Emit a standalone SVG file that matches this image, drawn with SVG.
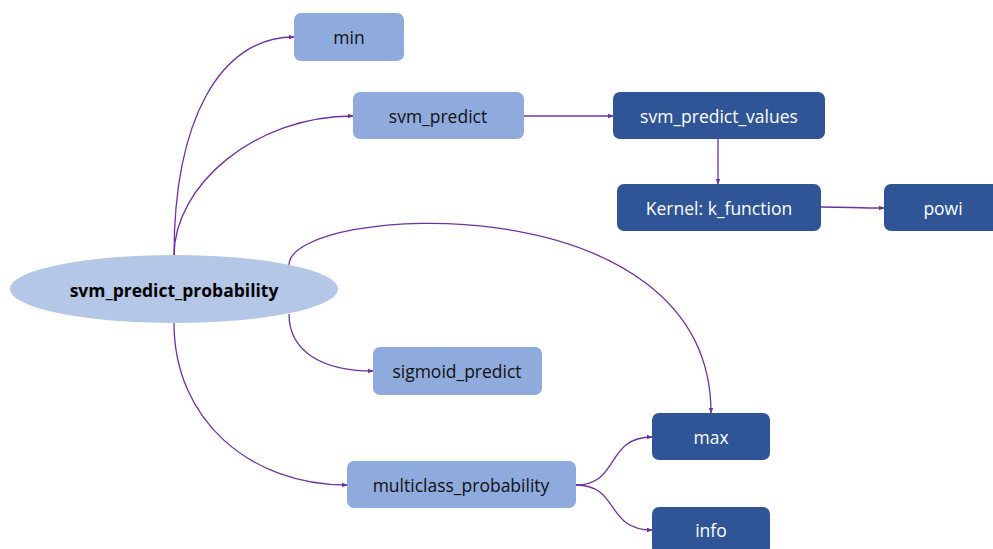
<svg xmlns="http://www.w3.org/2000/svg" width="993" height="549" viewBox="0 0 993 549">
  <defs>
    <marker id="arrow" viewBox="0 0 10 10" refX="9" refY="5" markerWidth="6" markerHeight="6" orient="auto" markerUnits="userSpaceOnUse">
      <path d="M0,1 L10,5 L0,9 z" fill="#7030A0"/>
    </marker>
    <style>
      .edge { fill: none; stroke: #7030A0; stroke-width: 1.3; marker-end: url(#arrow); }
      .light rect { fill: #8FAADC; }
      .dark rect { fill: #2F5597; }
      text { font-family: "Open Sans", "Liberation Sans", sans-serif; font-size: 17.5px; text-anchor: middle; dominant-baseline: central; }
      .light text { fill: #111111; }
      .dark text { fill: #FFFFFF; }
      .root ellipse { fill: #B4C7E7; }
      .root text { fill: #000000; font-weight: bold; }
    </style>
  </defs>
  <rect width="993" height="549" fill="#FFFFFF"/>

  <!-- connectors -->
  <g id="connectors">
    <path class="edge" d="M174,256 C174,120 220,37 294,37"/>
    <path class="edge" d="M174,256 C174,185 255,116 353,116"/>
    <path class="edge" d="M524,116 L613,116"/>
    <path class="edge" d="M718,139 L718,184"/>
    <path class="edge" d="M821,207 C850,207 855,208 884,208"/>
    <path class="edge" d="M289,265 C289,204 711,179 711,413"/>
    <path class="edge" d="M289,314 C289,350 320,371 373,371"/>
    <path class="edge" d="M174,323 C174,420 250,485 347,485"/>
    <path class="edge" d="M576,485 C620,485 605,437 652,437"/>
    <path class="edge" d="M576,485 C620,485 605,530 652,530"/>
  </g>

  <!-- nodes -->
  <g id="svm_predict_probability" class="root">
    <ellipse cx="174" cy="289" rx="164" ry="34"/>
    <text x="174" y="290">svm_predict_probability</text>
  </g>
  <g id="min" class="light">
    <rect x="294" y="13" width="110" height="48" rx="7"/>
    <text x="349" y="37">min</text>
  </g>
  <g id="svm_predict" class="light">
    <rect x="353" y="92" width="171" height="47" rx="7"/>
    <text x="438" y="116">svm_predict</text>
  </g>
  <g id="svm_predict_values" class="dark">
    <rect x="613" y="92" width="212" height="47" rx="7"/>
    <text x="719" y="116">svm_predict_values</text>
  </g>
  <g id="k_function" class="dark">
    <rect x="617" y="184" width="204" height="47" rx="7"/>
    <text x="719" y="208">Kernel: k_function</text>
  </g>
  <g id="powi" class="dark">
    <rect x="884" y="184" width="120" height="47" rx="7"/>
    <text x="943" y="208">powi</text>
  </g>
  <g id="sigmoid_predict" class="light">
    <rect x="373" y="347" width="169" height="48" rx="7"/>
    <text x="457" y="371">sigmoid_predict</text>
  </g>
  <g id="multiclass_probability" class="light">
    <rect x="347" y="461" width="229" height="47" rx="7"/>
    <text x="461" y="485">multiclass_probability</text>
  </g>
  <g id="max" class="dark">
    <rect x="652" y="413" width="118" height="47" rx="7"/>
    <text x="711" y="437">max</text>
  </g>
  <g id="info" class="dark">
    <rect x="652" y="507" width="118" height="47" rx="7"/>
    <text x="711" y="530">info</text>
  </g>
</svg>
